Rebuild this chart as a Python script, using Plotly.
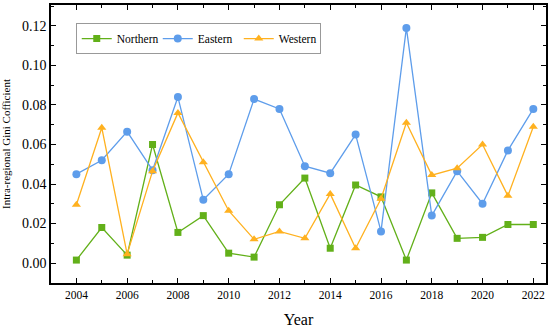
import plotly.graph_objects as go

years = list(range(2004, 2023))
northern = [0.0015, 0.018, 0.004, 0.060, 0.0155, 0.024, 0.005, 0.003, 0.0295, 0.043,
            0.0075, 0.0395, 0.0335, 0.0015, 0.0355, 0.0125, 0.013, 0.0195, 0.0195]
eastern = [0.045, 0.052, 0.0665, 0.047, 0.084, 0.032, 0.045, 0.083, 0.078, 0.049,
           0.0455, 0.065, 0.016, 0.119, 0.024, 0.0465, 0.030, 0.057, 0.078]
western = [0.0295, 0.0685, 0.0045, 0.0465, 0.076, 0.051, 0.0265, 0.012, 0.016, 0.0125,
           0.035, 0.0075, 0.0325, 0.071, 0.0445, 0.048, 0.060, 0.034, 0.069]
y_ticks = [0.00, 0.02, 0.04, 0.06, 0.08, 0.10, 0.12]
y_labels = ["0.00", "0.02", "0.04", "0.06", "0.08", "0.10", "0.12"]
x_ticks = list(range(2004, 2023, 2))

FONT = "Liberation Serif"

fig = go.Figure()
fig.add_trace(go.Scatter(x=years, y=northern, name="Northern", mode="lines+markers",
                         line=dict(color="#62B019", width=1.3),
                         marker=dict(symbol="square", size=7, color="#62B019")))
fig.add_trace(go.Scatter(x=years, y=eastern, name="Eastern", mode="lines+markers",
                         line=dict(color="#5E9DEB", width=1.3),
                         marker=dict(symbol="circle", size=8, color="#5E9DEB")))
fig.add_trace(go.Scatter(x=years, y=western, name="Western", mode="lines+markers",
                         line=dict(color="#FFB11F", width=1.3),
                         marker=dict(symbol="triangle-up", size=8, color="#FFB11F")))

axis_common = dict(showline=True, linecolor="black", linewidth=1.5, mirror="allticks",
                   ticks="inside", ticklen=5, tickwidth=1.2, tickcolor="black",
                   showgrid=False, zeroline=False, automargin=False)

fig.update_xaxes(range=[2003, 2022.5], tickvals=x_ticks,
                 tickfont=dict(family=FONT, size=11.5, color="black"),
                 title=dict(text="Year", font=dict(family=FONT, size=16, color="black")),
                 minor=dict(dtick=1, tick0=2004, ticks="inside", ticklen=3, tickcolor="black", tickwidth=1.2),
                 **axis_common)
fig.update_yaxes(range=[-0.0101, 0.1306], tickvals=y_ticks, ticktext=y_labels,
                 tickfont=dict(family=FONT, size=14, color="black"),
                 title=dict(text="Intra-regional Gini Cofficient", font=dict(family=FONT, size=11, color="black")),
                 minor=dict(dtick=0.01, tick0=0, ticks="inside", ticklen=3, tickcolor="black", tickwidth=1.2),
                 **axis_common)

fig.update_layout(
    width=550, height=328,
    margin=dict(l=51, r=4, t=5, b=45, autoexpand=False),
    plot_bgcolor="white", paper_bgcolor="white",
    font=dict(family=FONT, color="black"),
    legend=dict(orientation="h", x=0.05, y=0.935, xanchor="left", yanchor="top",
                bordercolor="#999999", borderwidth=1, bgcolor="white",
                font=dict(family=FONT, size=11.5, color="black"),
                itemwidth=30, tracegroupgap=0, entrywidth=36, entrywidthmode="pixels"),
    showlegend=True,
)

fig.write_html("out.html", config={"displayModeBar": False},
               post_script="document.body.style.margin='0';document.body.style.padding='0';")
